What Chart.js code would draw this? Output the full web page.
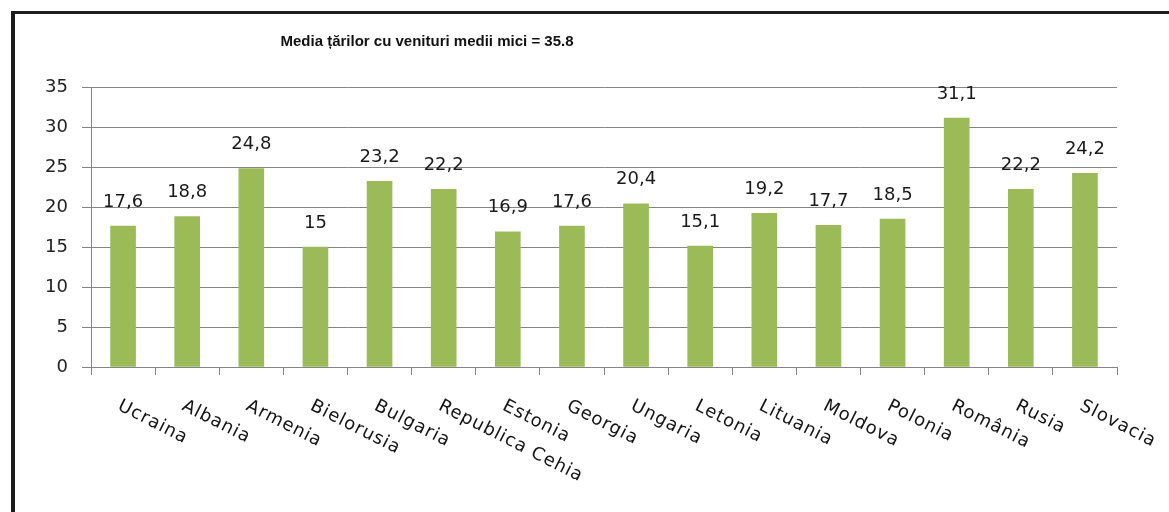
<!DOCTYPE html>
<html>
<head>
<meta charset="utf-8">
<script src="https://cdn.jsdelivr.net/npm/chart.js@4"></script>
<style>
  html, body { margin: 0; padding: 0; background: #fff; }
  #wrap { position: relative; width: 1169px; height: 512px; overflow: hidden; }
  #frame { position: absolute; left: 11px; top: 11px; right: -10px; bottom: -10px;
           border-left: 4px solid #1c1c1c; border-top: 3px solid #1c1c1c; pointer-events: none; }
  canvas { position: absolute; left: 0; top: 0; }
</style>
</head>
<body>
<div id="wrap">
  <canvas id="c" width="1169" height="512"></canvas>
  <div id="frame"></div>
</div>
<script>
const countries = ['Ucraina', 'Albania', 'Armenia', 'Bielorusia', 'Bulgaria', 'Republica Cehia',
  'Estonia', 'Georgia', 'Ungaria', 'Letonia', 'Lituania', 'Moldova', 'Polonia', 'România',
  'Rusia', 'Slovacia'];
const values = [17.6, 18.8, 24.8, 15, 23.2, 22.2, 16.9, 17.6, 20.4, 15.1, 19.2, 17.7, 18.5, 31.1, 22.2, 24.2];
const yTicks = [0, 5, 10, 15, 20, 25, 30, 35];
const titleText = 'Media țărilor cu venituri medii mici = 35.8';

const GRID = '#858585';
const BAR = '#9bbb59';

// Romanian decimal comma for the value labels
const fmt = v => String(v).replace('.', ',');

const titlePlugin = {
  id: 'topTitle',
  afterDraw(chart) {
    const ctx = chart.ctx;
    ctx.save();
    ctx.font = 'bold 15px "Liberation Sans", Arial, sans-serif';
    ctx.fillStyle = '#111';
    ctx.textAlign = 'center';
    ctx.textBaseline = 'middle';
    ctx.fillText(titleText, 427, 42);
    ctx.restore();
  }
};

const valueLabels = {
  id: 'valueLabels',
  afterDatasetsDraw(chart) {
    const ctx = chart.ctx;
    const meta = chart.getDatasetMeta(0);
    ctx.save();
    ctx.font = '18px "DejaVu Sans", sans-serif';
    ctx.fillStyle = '#1a1a1a';
    ctx.textAlign = 'center';
    ctx.textBaseline = 'middle';
    meta.data.forEach((bar, i) => {
      ctx.fillText(fmt(values[i]), bar.x, bar.y - 24);
    });
    ctx.restore();
  }
};

// slanted category names, hanging down to the right from each category centre
const slantedLabels = {
  id: 'slantedLabels',
  afterDraw(chart) {
    const ctx = chart.ctx;
    const xs = chart.scales.x;
    const top = xs.bottom + 22;
    ctx.save();
    ctx.font = '18px "DejaVu Sans", sans-serif';
    ctx.fillStyle = '#151515';
    ctx.textAlign = 'left';
    ctx.textBaseline = 'top';
    if ('letterSpacing' in ctx) ctx.letterSpacing = '1px';
    countries.forEach((name, i) => {
      const x = xs.getPixelForValue(i);
      ctx.save();
      ctx.translate(x, top);
      ctx.rotate(27 * Math.PI / 180);
      ctx.fillText(name, 0, 0);
      ctx.restore();
    });
    ctx.restore();
  }
};

new Chart(document.getElementById('c'), {
  type: 'bar',
  data: {
    labels: countries,
    datasets: [{
      data: values,
      backgroundColor: BAR,
      borderWidth: 0,
      barThickness: 25
    }]
  },
  options: {
    responsive: false,
    animation: false,
    devicePixelRatio: 1,
    layout: { padding: { left: 11, top: 87, right: 52, bottom: 137 } },
    plugins: { legend: { display: false }, tooltip: { enabled: false }, title: { display: false } },
    scales: {
      x: {
        offset: true,
        ticks: { display: false },
        grid: { display: true, drawOnChartArea: false, drawTicks: true, tickLength: 8, color: GRID, lineWidth: 1 },
        border: { display: true, color: GRID, width: 1 }
      },
      y: {
        min: 0,
        max: 35,
        afterBuildTicks(scale) { scale.ticks = yTicks.map(v => ({ value: v })); },
        afterFit(scale) { scale.width = 80; },
        ticks: {
          padding: 14,
          color: '#222',
          font: { family: '"DejaVu Sans", sans-serif', size: 18 },
          callback: v => String(v)
        },
        grid: { color: GRID, lineWidth: 1, tickLength: 9, drawTicks: true },
        border: { display: true, color: GRID, width: 1 }
      }
    }
  },
  plugins: [titlePlugin, valueLabels, slantedLabels]
});
</script>
</body>
</html>
